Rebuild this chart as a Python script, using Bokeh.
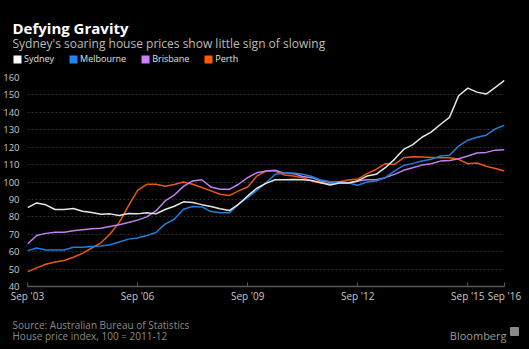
from bokeh.plotting import figure
from bokeh.layouts import column
from bokeh.models import Label, Legend, LegendItem, FixedTicker
from bokeh.embed import file_html
from bokeh.resources import INLINE

# Quarterly data, Sep 2003 .. Sep 2016
start_year = 2003.75
sydney = [85.3, 88.0, 86.9, 84.2, 84.2, 84.8, 83.2, 82.5, 81.5, 81.7, 80.8, 81.9, 81.7,
          82.3, 81.7, 84.2, 86.1, 88.6, 88.2, 87.0, 85.9, 84.6, 83.6, 87.2, 92.0, 96.4,
          99.2, 101.3, 101.3, 101.5, 101.3, 100.9, 99.6, 98.3, 99.4, 99.4, 100.6, 103.4,
          104.4, 108.2, 113.0, 118.7, 121.5, 125.7, 128.6, 133.0, 137.1, 149.5, 153.9,
          151.6, 150.5, 154.3, 158.3]
melbourne = [60.6, 62.1, 61.0, 61.0, 61.0, 62.5, 62.5, 62.9, 63.2, 64.0, 65.5, 67.2, 67.8,
             69.3, 71.0, 75.8, 78.6, 84.4, 85.9, 85.7, 83.0, 82.3, 82.3, 87.2, 91.0, 95.2,
             99.6, 104.4, 105.1, 105.1, 104.4, 103.2, 101.1, 100.2, 99.6, 99.4, 98.1, 100.0,
             100.6, 102.5, 106.3, 109.5, 110.7, 112.0, 113.0, 114.9, 115.4, 120.6, 124.0,
             125.7, 126.9, 130.5, 132.6]
brisbane = [64.4, 69.3, 70.5, 71.2, 71.2, 72.0, 72.6, 73.1, 73.5, 74.5, 75.4, 76.8, 78.1,
            80.0, 83.4, 89.1, 92.5, 97.5, 100.6, 101.3, 97.1, 95.8, 95.8, 98.7, 102.5, 105.3,
            106.3, 106.7, 105.1, 104.8, 103.2, 102.5, 100.6, 99.8, 100.0, 99.6, 100.6, 101.3,
            101.3, 102.5, 104.4, 106.7, 108.2, 109.7, 110.5, 112.0, 112.4, 113.3, 114.9,
            116.6, 117.0, 118.3, 118.5]
perth = [48.4, 50.7, 52.8, 54.1, 54.9, 56.8, 59.0, 62.1, 65.1, 70.1, 76.8, 86.3, 95.2,
         98.7, 98.7, 97.5, 98.6, 100.0, 98.7, 96.8, 94.9, 93.0, 92.2, 94.9, 97.1, 103.4,
         106.3, 106.3, 104.0, 103.4, 102.5, 100.6, 99.4, 99.0, 100.2, 101.1, 101.7, 104.8,
         107.2, 110.5, 110.1, 113.9, 114.5, 114.3, 114.1, 113.9, 113.9, 113.0, 110.5,
         110.9, 109.0, 107.8, 106.3]
series_names = ["Sydney", "Melbourne", "Brisbane", "Perth"]
series_colors = ["#e6e6e6", "#1f7ed8", "#c17ff0", "#e8590f"]
legend_colors = ["#ffffff", "#1f86f0", "#cc80ff", "#ff5a00"]
x_tick_values = [2003.75, 2006.75, 2009.75, 2012.75, 2015.75, 2016.75]
x_tick_labels = ["Sep '03", "Sep '06", "Sep '09", "Sep '12", "Sep '15", "Sep '16"]
y_ticks = [40, 50, 60, 70, 80, 90, 100, 110, 120, 130, 140, 150, 160]
title_text = "Defying Gravity"
subtitle_text = "Sydney's soaring house prices show little sign of slowing"
source_text = "Source: Australian Bureau of Statistics"
note_text = "House price index, 100 = 2011-12"
brand_text = "Bloomberg"

x = [start_year + 0.25 * i for i in range(len(sydney))]
data = [sydney, melbourne, brisbane, perth]

FONT = "Open Sans"
W = 529


def blank_fig(h):
    f = figure(width=W, height=h, output_backend="svg", toolbar_location=None, title=None,
               x_range=(0, W), y_range=(h, 0), x_axis_type=None, y_axis_type=None,
               min_border=0, background_fill_color="black", border_fill_color="black",
               outline_line_color=None, frame_align=False)
    f.xgrid.visible = False
    f.ygrid.visible = False
    return f


def add_label(f, txt, x0, y0, size, color, style="normal", align="left"):
    f.add_layout(Label(x=x0, y=y0, text=txt, text_font=FONT, text_font_size=size,
                       text_color=color, text_font_style=style, text_align=align,
                       text_baseline="alphabetic"))


# ---- header ----
head = blank_fig(70)
add_label(head, title_text, 12, 27.5, "15px", "#ffffff", "bold")
add_label(head, subtitle_text, 12, 43, "12px", "#bcbcbc")
items = []
for name, col in zip(series_names, legend_colors):
    r = head.quad(left=[-100], right=[-99], bottom=[-100], top=[-99],
                  fill_color=col, line_color=None)
    items.append(LegendItem(label=name, renderers=[r]))
legend = Legend(items=items, orientation="horizontal", location=(12, 5),
                background_fill_alpha=0, border_line_color=None,
                label_text_color="#e0e0e0", label_text_font=FONT, label_text_font_size="9px",
                glyph_width=10, glyph_height=10, label_standoff=2, spacing=14, padding=0,
                margin=0, label_height=10)
head.add_layout(legend, "center")

# ---- main chart ----
p = figure(width=W, height=240, output_backend="svg", toolbar_location=None,
           x_range=(2003.75, 2016.75), y_range=(40, 160), frame_align=False,
           min_border_left=26, min_border_right=25, min_border_top=7, min_border_bottom=24,
           background_fill_color="black", border_fill_color="black", outline_line_color=None)

p.yaxis.ticker = FixedTicker(ticks=y_ticks)
p.yaxis.axis_line_color = None
p.yaxis.major_tick_line_color = None
p.yaxis.minor_tick_line_color = None
p.yaxis.major_label_text_color = "#c8c8c8"
p.yaxis.major_label_text_font = FONT
p.yaxis.major_label_text_font_size = "9.5px"
p.yaxis.major_label_standoff = 2

p.xaxis.ticker = FixedTicker(ticks=x_tick_values)
p.xaxis.major_label_overrides = dict(zip(x_tick_values, x_tick_labels))
p.xaxis.axis_line_color = "#5a5a5a"
p.xaxis.axis_line_width = 1.5
p.xaxis.major_tick_line_color = "#5a5a5a"
p.xaxis.major_tick_in = 4
p.xaxis.major_tick_out = 0
p.xaxis.minor_tick_line_color = None
p.xaxis.major_label_text_color = "#c8c8c8"
p.xaxis.major_label_text_font = FONT
p.xaxis.major_label_text_font_size = "10px"
p.xaxis.major_label_standoff = 2

p.xgrid.grid_line_color = None
p.ygrid.grid_line_color = "#2e2e2e"
p.ygrid.grid_line_dash = "2 2"
p.ygrid.grid_line_width = 1

for vals, col in zip(reversed(data), reversed(series_colors)):
    p.line(x, vals, line_color=col, line_width=1.5)

# ---- footer ----
foot = blank_fig(39)
add_label(foot, source_text, 12, 14.5, "10px", "#8a8a8a")
add_label(foot, note_text, 12, 25, "10px", "#8a8a8a")
add_label(foot, brand_text, 506, 25, "11px", "#9a9a9a", align="right")
foot.scatter([514], [21], marker="square", size=8, fill_color="#8a8a8a", line_color="#8a8a8a")

layout = column(head, p, foot, spacing=0, styles={"background-color": "black"})
open("out.html", "w").write(file_html(layout, INLINE))
